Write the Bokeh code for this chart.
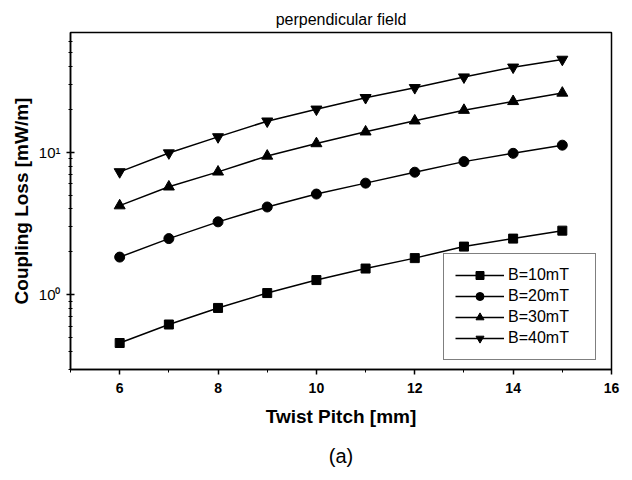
from bokeh.plotting import figure
from bokeh.models import (Range1d, SingleIntervalTicker, LogTicker, CustomJSTickFormatter,
                          Legend, LegendItem, Title)
from bokeh.embed import file_html
from bokeh.resources import INLINE

# ---- data ----
pitch = [6, 7, 8, 9, 10, 11, 12, 13, 14, 15]
loss_10mT = [0.46, 0.62, 0.81, 1.03, 1.27, 1.53, 1.81, 2.18, 2.48, 2.82]
loss_20mT = [1.84, 2.48, 3.25, 4.13, 5.09, 6.07, 7.24, 8.59, 9.82, 11.2]
loss_30mT = [4.22, 5.72, 7.28, 9.41, 11.5, 13.9, 16.6, 19.7, 22.7, 26.0]
loss_40mT = [7.28, 9.87, 12.8, 16.5, 20.0, 24.1, 28.3, 33.6, 39.4, 44.7]
series_labels = ["B=10mT", "B=20mT", "B=30mT", "B=40mT"]
title_text = "perpendicular field"
x_title = "Twist Pitch [mm]"
y_title = "Coupling Loss [mW/m]"
caption = "(a)"

FONT = "Liberation Sans"
INK = "black"

p = figure(width=632, height=480, y_axis_type="log",
           x_range=Range1d(5, 16), y_range=Range1d(0.3, 69),
           output_backend="svg", toolbar_location=None,
           min_border_left=70, min_border_right=21,
           min_border_top=32, min_border_bottom=109)

p.title.text = title_text
p.title.align = "center"
p.title.text_font = FONT
p.title.text_font_size = "16px"
p.title.text_font_style = "normal"
p.title.text_color = INK

p.xgrid.visible = False
p.ygrid.visible = False
p.outline_line_color = "black"
p.outline_line_width = 1.5

# x axis
xa = p.xaxis[0]
xa.ticker = SingleIntervalTicker(interval=2, num_minor_ticks=2)
xa.axis_label = x_title
xa.axis_label_text_font = FONT
xa.axis_label_text_font_size = "19px"
xa.axis_label_text_font_style = "bold"
xa.axis_label_text_color = INK
xa.axis_label_standoff = 10
xa.major_label_text_font = FONT
xa.major_label_text_font_size = "14px"
xa.major_label_text_font_style = "bold"
xa.major_label_text_color = INK
xa.major_label_standoff = 8
xa.major_tick_in = 0
xa.major_tick_out = 5
xa.minor_tick_in = 0
xa.minor_tick_out = 3
xa.axis_line_width = 1.5
xa.major_tick_line_width = 1.5

# y axis
ya = p.yaxis[0]
ya.ticker = LogTicker(num_minor_ticks=10)
ya.formatter = CustomJSTickFormatter(code="""
const sup = {"-2":"\u207b\u00b2","-1":"\u207b\u00b9","0":"\u2070","1":"\u00b9","2":"\u00b2","3":"\u00b3"};
const e = Math.round(Math.log10(tick));
return "10" + sup[String(e)];
""")
ya.axis_label = y_title
ya.axis_label_text_font = FONT
ya.axis_label_text_font_size = "19px"
ya.axis_label_text_font_style = "bold"
ya.axis_label_text_color = INK
ya.axis_label_standoff = 4
ya.major_label_text_font = FONT
ya.major_label_text_font_size = "15px"
ya.major_label_text_color = INK
ya.major_label_standoff = 6
ya.major_tick_in = 4
ya.major_tick_out = 4
ya.minor_tick_in = 2
ya.minor_tick_out = 2
ya.axis_line_width = 1.5
ya.major_tick_line_width = 1.5

series = [loss_10mT, loss_20mT, loss_30mT, loss_40mT]
markers = ["square", "circle", "triangle", "inverted_triangle"]
sizes = [9, 10, 11, 11]
items = []
for vals, mk, sz, lab in zip(series, markers, sizes, series_labels):
    ln = p.line(pitch, vals, line_color="black", line_width=1.5)
    sc = p.scatter(pitch, vals, marker=mk, size=sz, fill_color="black", line_color="black")
    items.append(LegendItem(label=lab, renderers=[ln, sc]))

legend = Legend(items=items, location=(373, 9), glyph_width=49, glyph_height=20,
                label_height=20, label_width=76, label_standoff=4, spacing=1,
                padding=11, margin=0,
                label_text_font=FONT, label_text_font_size="16px",
                label_text_color=INK,
                border_line_color="black", border_line_width=1,
                background_fill_color="white", background_fill_alpha=1.0)
p.add_layout(legend, "center")

cap = Title(text=caption, align="center", text_font=FONT, text_font_size="20px",
            text_font_style="normal", text_color=INK, standoff=27)
p.add_layout(cap, "below")

open("out.html", "w").write(file_html(p, INLINE))
